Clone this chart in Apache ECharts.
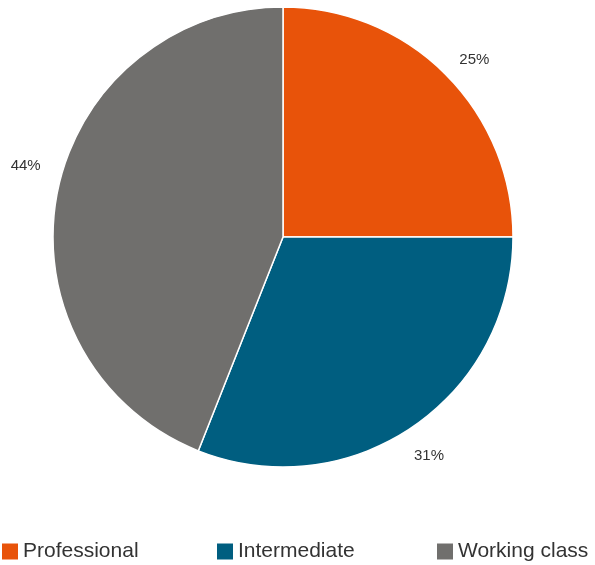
<!DOCTYPE html>
<html><head><meta charset="utf-8">
<script src="https://cdn.jsdelivr.net/npm/echarts@6/dist/echarts.min.js"></script>
<style>html,body{margin:0;padding:0;background:#fff}#c{width:595px;height:565px}</style>
</head><body><div id="c"></div>
<script>
const categories = ['Professional', 'Intermediate', 'Working class'];
const values = [25, 31, 44];
const colors = ['#E8530A', '#005E80', '#706F6D'];
const legendLeft = [0, 215, 435];
const labelOffsets = [[4, 10], [-3, 0], [3, -21]];

const chart = echarts.init(document.getElementById('c'));
const font = 'Liberation Sans, Arial, sans-serif';
const data = categories.map((n, i) => ({ name: n, value: values[i], itemStyle: { color: colors[i] } }));
const labelData = categories.map((n, i) => ({ name: n, value: values[i], label: { offset: labelOffsets[i] } }));

chart.setOption({
  animation: false,
  legend: categories.map((n, i) => ({
    data: [n], left: legendLeft[i], top: 541, padding: 0, itemWidth: 18, itemHeight: 18, itemGap: 0,
    icon: 'rect', selectedMode: false,
    textStyle: { fontSize: 21, color: '#333', fontFamily: font, padding: [0, 0, 0, -1] }
  })),
  series: [
    {
      type: 'pie', center: [283, 237], radius: 230, startAngle: 90, clockwise: true,
      data: data, label: { show: false }, labelLine: { show: false },
      itemStyle: { borderColor: '#fff', borderWidth: 1.5 }, silent: true
    },
    {
      type: 'pie', center: [283, 237], radius: [250, 274], startAngle: 90, clockwise: true,
      data: labelData, silent: true, legendHoverLink: false,
      itemStyle: { color: 'rgba(0,0,0,0)' },
      label: { show: true, position: 'inside', formatter: '{c}%', fontSize: 15, color: '#333', fontFamily: font },
      labelLine: { show: false }
    }
  ]
});
</script></body></html>
